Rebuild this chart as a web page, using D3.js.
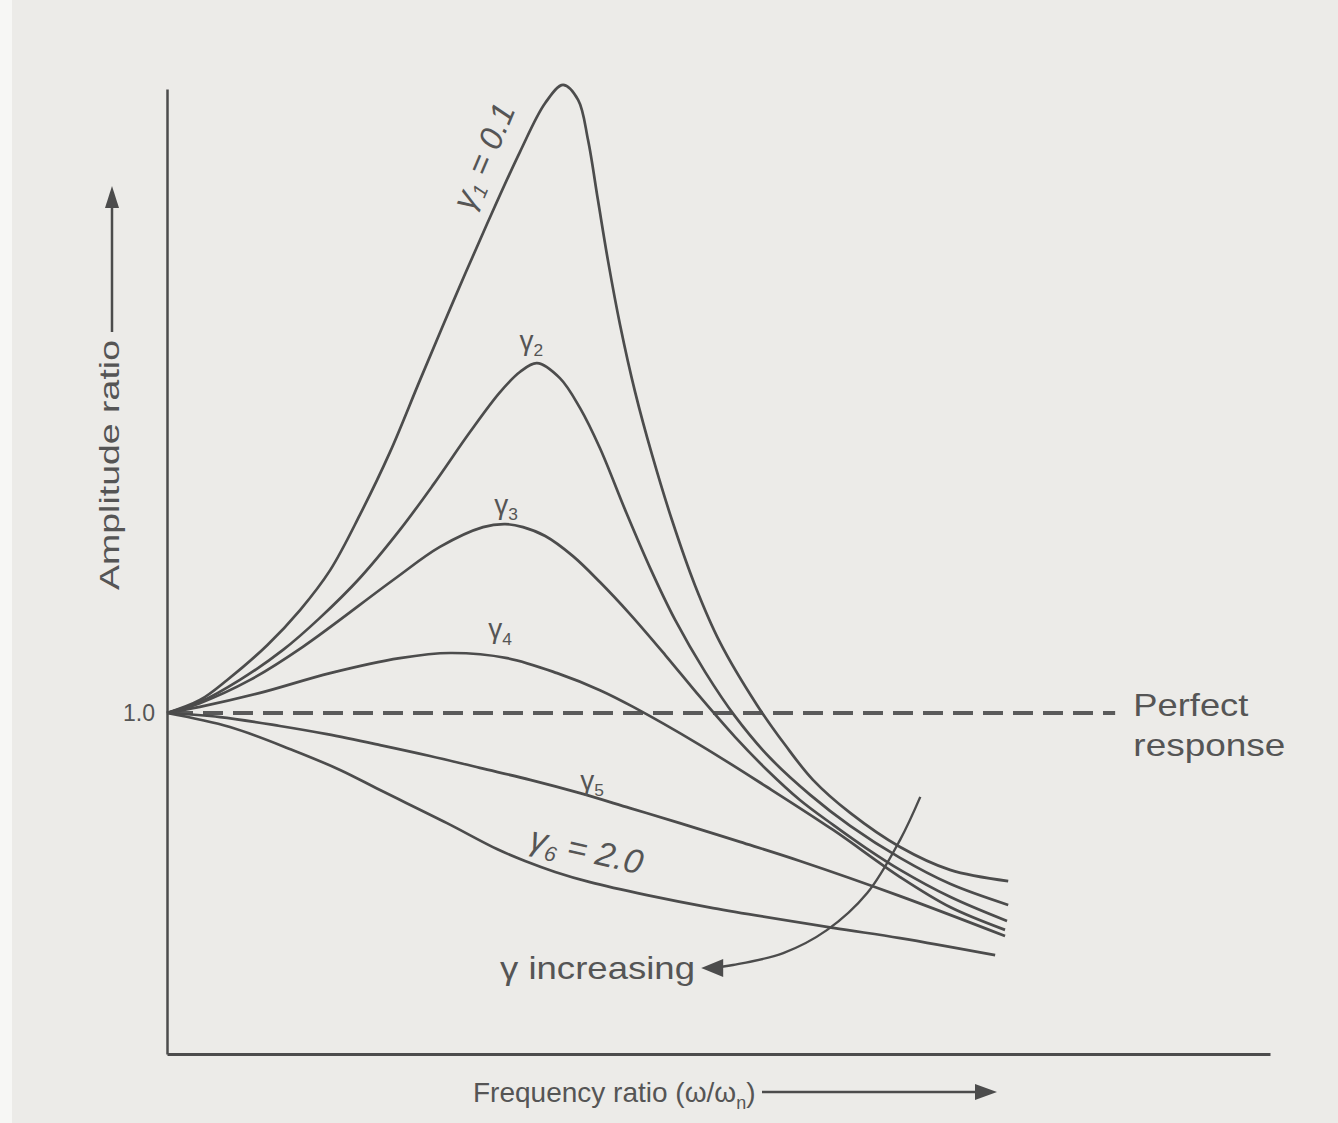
<!DOCTYPE html>
<html>
<head>
<meta charset="utf-8">
<script src="https://cdn.jsdelivr.net/npm/d3@7"></script>
<style>
  html, body { margin: 0; padding: 0; background: #ecebe8; }
  svg { display: block; }
  text { font-family: "Liberation Sans", Arial, sans-serif; fill: #555; }
</style>
</head>
<body>
<script>
// ---- Data (frequency ratio ω/ωn, amplitude ratio) ----
const g1X = [0,0.083,0.152,0.253,0.336,0.412,0.487,0.563,0.639,0.722,0.808,0.891,0.955,1.000,1.038,1.063,1.088,1.114,1.144,1.182,1.225,1.275,1.333,1.396,1.490,1.561,1.631,1.725,1.851,1.977,2.124];
const g1Y = [1.000,1.038,1.097,1.199,1.302,1.419,1.581,1.765,1.977,2.205,2.434,2.645,2.789,2.842,2.798,2.681,2.505,2.323,2.138,1.941,1.756,1.566,1.375,1.208,1.023,0.906,0.804,0.707,0.607,0.540,0.507];

const g2X = [0,0.083,0.184,0.293,0.386,0.487,0.588,0.672,0.765,0.841,0.891,0.934,0.992,1.043,1.093,1.157,1.220,1.283,1.359,1.434,1.523,1.624,1.725,1.851,1.977,2.124];
const g2Y = [1.000,1.032,1.097,1.185,1.279,1.396,1.537,1.669,1.824,1.941,2.000,2.026,1.982,1.894,1.777,1.595,1.425,1.273,1.120,0.991,0.868,0.760,0.669,0.575,0.499,0.437];

const g3X = [0,0.083,0.210,0.343,0.571,0.689,0.798,0.854,0.899,0.955,1.025,1.093,1.169,1.258,1.346,1.434,1.515,1.598,1.682,1.765,1.851,1.977,2.121];
const g3Y = [1.000,1.029,1.097,1.194,1.390,1.487,1.545,1.554,1.545,1.519,1.460,1.384,1.290,1.170,1.047,0.930,0.833,0.745,0.672,0.604,0.540,0.461,0.390];

const g4X = [0,0.083,0.235,0.412,0.588,0.715,0.859,0.985,1.093,1.177,1.346,1.515,1.682,1.851,1.977,2.116];
const g4Y = [1.000,1.018,1.059,1.117,1.161,1.176,1.161,1.117,1.067,1.018,0.906,0.783,0.657,0.519,0.431,0.364];

const g5X = [0,0.134,0.285,0.404,0.538,0.664,0.790,0.917,1.043,1.169,1.295,1.447,1.598,1.851,2.116];
const g5Y = [1.000,0.988,0.962,0.938,0.906,0.874,0.839,0.804,0.765,0.721,0.677,0.622,0.566,0.463,0.346];

const g6X = [0,0.159,0.318,0.437,0.538,0.707,0.833,0.904,0.980,1.068,1.212,1.379,1.682,1.851,2.091];
const g6Y = [1.000,0.959,0.891,0.833,0.774,0.677,0.601,0.566,0.534,0.504,0.466,0.428,0.370,0.340,0.290];

const seriesNames = ["γ1", "γ2", "γ3", "γ4", "γ5", "γ6"];
const perfectResponse = 1.0;
const perfectEndX = 2.394;
const yTickValues = [1.0];
const yTickLabels = ["1.0"];

// "γ increasing" annotation arrow path (data coords)
const arrowX = [1.902,1.851,1.768,1.667,1.556,1.429,1.376];
const arrowY = [0.754,0.628,0.472,0.364,0.296,0.261,0.252];

// ---- Layout ----
const W = 1338, H = 1123;
const svg = d3.select("body").append("svg").attr("width", W).attr("height", H);

svg.append("rect").attr("width", W).attr("height", H).attr("fill", "#ecebe8");
svg.append("rect").attr("x", 0).attr("y", 0).attr("width", 12).attr("height", H).attr("fill", "#f7f7f5");

const x = d3.scaleLinear().domain([0, 2.785]).range([167, 1270]);
const y = d3.scaleLinear().domain([0, 2.83]).range([1054, 89]);

const ink = "#4c4c4c";

// Axes
const yAxis = d3.axisLeft(y).tickValues(yTickValues).tickFormat((d, i) => yTickLabels[i]).tickSizeInner(0).tickSizeOuter(0).tickPadding(12);
const gy = svg.append("g").attr("transform", `translate(${x(0)},0)`).call(yAxis);
gy.select(".domain").attr("stroke", ink).attr("stroke-width", 2.5);
gy.selectAll(".tick text").attr("font-size", 23).attr("fill", "#555").attr("font-family", "Liberation Sans, Arial, sans-serif");

const xAxis = d3.axisBottom(x).tickValues([]).tickSizeOuter(0);
const gx = svg.append("g").attr("transform", `translate(0,${y(0)})`).call(xAxis);
gx.select(".domain").attr("stroke", ink).attr("stroke-width", 3);

// Perfect response dashed line
svg.append("line")
  .attr("x1", x(0) + 6).attr("x2", x(perfectEndX))
  .attr("y1", y(perfectResponse)).attr("y2", y(perfectResponse))
  .attr("stroke", "#5a5a5a").attr("stroke-width", 4).attr("stroke-dasharray", "20,10");

// Curves
const allX = [g1X, g2X, g3X, g4X, g5X, g6X];
const allY = [g1Y, g2Y, g3Y, g4Y, g5Y, g6Y];
const line = d3.line().x(d => x(d[0])).y(d => y(d[1])).curve(d3.curveCatmullRom.alpha(0.5));

seriesNames.forEach((name, i) => {
  const pts = allX[i].map((v, j) => [v, allY[i][j]]);
  svg.append("path").datum(pts)
    .attr("d", line).attr("fill", "none")
    .attr("stroke", ink).attr("stroke-width", 2.7).attr("stroke-linejoin", "round");
});

// Series labels
function gammaLabel(cx, cy, sub, suffix, rot, size, italic) {
  const t = svg.append("text")
    .attr("transform", `translate(${x(cx)},${y(cy)}) rotate(${rot})`)
    .attr("text-anchor", "middle").attr("dominant-baseline", "middle")
    .attr("font-size", size).attr("fill", "#555")
    .attr("font-style", italic ? "italic" : "normal");
  t.append("tspan").text("γ");
  t.append("tspan").attr("font-size", size * 0.62).attr("dy", size * 0.3).text(sub);
  if (suffix) t.append("tspan").attr("dy", -size * 0.3).text(suffix);
}
gammaLabel(0.805, 2.63, "1", " = 0.1", -67, 33, true);
gammaLabel(0.92, 2.085, "2", "", 0, 28, false);
gammaLabel(0.856, 1.605, "3", "", 0, 28, false);
gammaLabel(0.841, 1.24, "4", "", 0, 28, false);
gammaLabel(1.073, 0.795, "5", "", 0, 28, false);
gammaLabel(1.058, 0.59, "6", " = 2.0", 13, 34, true);

// Perfect response label
svg.append("text").attr("x", x(2.44)).attr("y", y(1.0) + 3).attr("font-size", 32)
  .attr("textLength", 115).attr("lengthAdjust", "spacingAndGlyphs").text("Perfect");
svg.append("text").attr("x", x(2.44)).attr("y", y(1.0) + 43).attr("font-size", 32)
  .attr("textLength", 152).attr("lengthAdjust", "spacingAndGlyphs").text("response");

// γ increasing annotation
svg.append("text").attr("x", 500).attr("y", y(0.252) + 11)
  .attr("font-size", 32).attr("textLength", 195).attr("lengthAdjust", "spacingAndGlyphs").text("γ increasing");
const arrowPts = arrowX.map((v, j) => [v, arrowY[j]]);
svg.append("path").datum(arrowPts)
  .attr("d", d3.line().x(d => x(d[0])).y(d => y(d[1])).curve(d3.curveCatmullRom))
  .attr("fill", "none").attr("stroke", ink).attr("stroke-width", 2.4);
{
  const tx = x(1.364) - 6, ty = y(0.252);
  svg.append("path")
    .attr("d", `M${tx},${ty} L${tx + 22},${ty - 9} L${tx + 22},${ty + 9} Z`)
    .attr("fill", ink);
}

// Axis titles with arrows
svg.append("text")
  .attr("transform", `translate(${x(0) - 55},465) rotate(-90)`)
  .attr("text-anchor", "middle").attr("dominant-baseline", "middle")
  .attr("font-size", 28).attr("textLength", 250).attr("lengthAdjust", "spacingAndGlyphs")
  .text("Amplitude ratio");
svg.append("line").attr("x1", x(0) - 55).attr("x2", x(0) - 55).attr("y1", 332).attr("y2", 204)
  .attr("stroke", ink).attr("stroke-width", 2.5);
svg.append("path").attr("d", `M${x(0) - 55},186 L${x(0) - 62},208 L${x(0) - 48},208 Z`).attr("fill", ink);

const xt = svg.append("text").attr("x", 473).attr("y", 1102).attr("font-size", 28);
xt.append("tspan").text("Frequency ratio (ω/ω");
xt.append("tspan").attr("font-size", 18).attr("dy", 7).text("n");
xt.append("tspan").attr("dy", -7).text(")");
svg.append("line").attr("x1", 762).attr("x2", 978).attr("y1", 1092).attr("y2", 1092)
  .attr("stroke", ink).attr("stroke-width", 2.5);
svg.append("path").attr("d", `M997,1092 L975,1084 L975,1100 Z`).attr("fill", ink);
</script>
</body>
</html>
